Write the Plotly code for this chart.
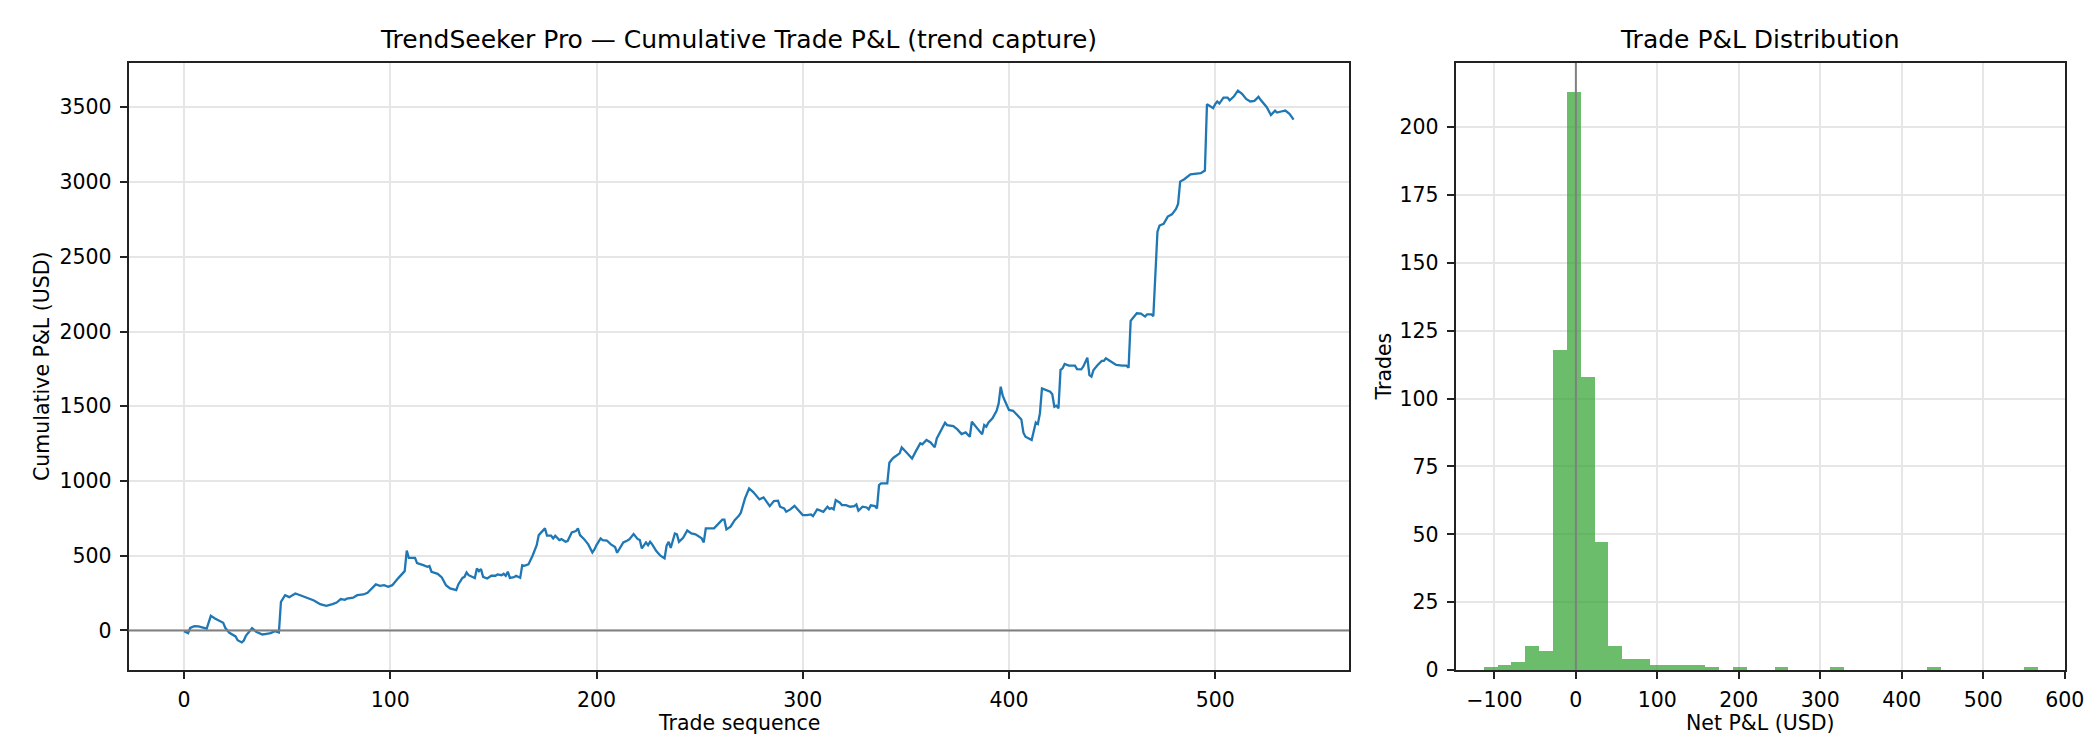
import numpy as np
import plotly.graph_objects as go

# cumulative P&L (trade index, USD)
trade_idx = [
    0, 2, 3, 5, 7, 9, 11, 13, 15, 19, 20, 22, 25, 26, 28, 29, 30, 31, 33, 35,
    36, 38, 40, 42, 44, 46, 47, 49, 51, 54, 57, 61, 63, 66, 69, 72, 74, 76, 78, 79,
    82, 84, 87, 89, 91, 93, 95, 97, 99, 101, 104, 105, 107, 108, 109, 112, 113, 116, 118, 119,
    120, 123, 125, 127, 129, 132, 133, 135, 136, 137, 138, 141, 142, 143, 144, 145, 147, 149, 151, 152,
    154, 155, 156, 157, 158, 160, 161, 163, 164, 165, 167, 169, 171, 172, 174, 175, 176, 178, 179, 180,
    182, 183, 185, 186, 188, 189, 190, 191, 192, 194, 196, 198, 199, 200, 202, 203, 205, 207, 209, 210,
    211, 213, 215, 216, 218, 220, 221, 222, 224, 225, 226, 227, 229, 231, 233, 234, 235, 236, 238, 239,
    240, 242, 244, 246, 248, 250, 251, 252, 253, 257, 258, 261, 262, 263, 265, 267, 269, 270, 272, 274,
    276, 278, 279, 281, 282, 284, 286, 288, 289, 291, 292, 294, 296, 298, 300, 302, 304, 305, 307, 308,
    310, 312, 313, 314, 315, 316, 318, 319, 321, 323, 325, 326, 327, 329, 331, 332, 333, 335, 336, 337,
    338, 341, 342, 343, 344, 347, 348, 350, 353, 355, 357, 358, 360, 362, 364, 365, 369, 370, 373, 375,
    377, 379, 381, 382, 384, 387, 388, 389, 390, 392, 394, 395, 396, 397, 398, 400, 402, 404, 406, 407,
    408, 411, 413, 414, 415, 416, 417, 420, 421, 422, 423, 424, 425, 426, 427, 429, 432, 433, 435, 436,
    438, 439, 440, 441, 443, 445, 446, 447, 449, 452, 455, 457, 458, 459, 460, 462, 464, 466, 467, 469,
    470, 472, 473, 475, 477, 479, 481, 482, 483, 485, 488, 490, 492, 493, 495, 496, 497, 499, 500, 501,
    502, 504, 506, 507, 509, 511, 513, 515, 517, 519, 521, 522, 525, 527, 529, 530, 532, 534, 536, 538,
]
cum_pnl = [
    -5, -18, 17, 29, 27, 18, 13, 98, 80, 51, 18, -16, -40, -65, -80, -67, -36, -18, 16, -9,
    -16, -27, -22, -18, -5, -13, 192, 236, 223, 248, 232, 210, 201, 176, 165, 176, 187, 210, 205, 214,
    219, 236, 241, 252, 281, 308, 299, 303, 292, 303, 352, 366, 397, 535, 486, 486, 451, 437, 426, 431,
    393, 379, 355, 303, 281, 270, 308, 352, 359, 388, 370, 350, 415, 397, 411, 359, 348, 366, 366, 375,
    370, 379, 366, 393, 352, 357, 366, 352, 437, 433, 442, 500, 571, 638, 665, 683, 634, 634, 616, 634,
    605, 611, 593, 598, 656, 660, 665, 683, 638, 611, 576, 522, 542, 571, 616, 605, 602, 576, 558, 520,
    542, 589, 602, 611, 645, 611, 605, 549, 589, 571, 593, 576, 531, 500, 482, 567, 593, 553, 649, 643,
    593, 620, 669, 649, 643, 623, 616, 589, 683, 683, 698, 741, 741, 676, 694, 738, 767, 788, 884, 950,
    926, 895, 877, 890, 872, 832, 866, 868, 828, 817, 794, 810, 834, 805, 772, 772, 776, 765, 810, 805,
    794, 828, 814, 819, 810, 872, 855, 839, 839, 828, 832, 843, 801, 828, 823, 810, 837, 832, 817, 973,
    984, 984, 1122, 1140, 1156, 1185, 1225, 1196, 1151, 1203, 1252, 1245, 1274, 1258, 1225, 1285, 1390, 1374, 1368, 1345,
    1314, 1325, 1296, 1397, 1363, 1312, 1374, 1363, 1390, 1419, 1470, 1519, 1631, 1569, 1537, 1475, 1470, 1441, 1412, 1323,
    1296, 1274, 1392, 1381, 1452, 1620, 1613, 1597, 1580, 1497, 1504, 1486, 1743, 1754, 1783, 1772, 1772, 1749, 1747, 1765,
    1825, 1709, 1698, 1743, 1776, 1803, 1803, 1821, 1803, 1776, 1772, 1772, 1758, 2071, 2089, 2122, 2120, 2100, 2115, 2115,
    2102, 2668, 2709, 2720, 2769, 2784, 2820, 2854, 3003, 3019, 3052, 3054, 3059, 3059, 3077, 3521, 3512, 3494, 3521, 3539,
    3525, 3565, 3565, 3547, 3572, 3612, 3590, 3556, 3539, 3543, 3570, 3550, 3501, 3449, 3478, 3465, 3472, 3478, 3456, 3418,
]

# histogram of per-trade net P&L: 40 bins starting at hist_start, each hist_width wide
hist_start = -113.7
hist_width = 17.0
hist_counts = [
    1, 2, 3, 9, 7, 118, 213, 108, 47, 9,
    4, 4, 2, 2, 2, 2, 1, 0, 1, 0,
    0, 1, 0, 0, 0, 1, 0, 0, 0, 0,
    0, 0, 1, 0, 0, 0, 0, 0, 0, 1,
]

FONT = "DejaVu Sans"
TICK = 20.5
GRID = "#e6e6e6"
SPINE = "#222222"

edges = hist_start + hist_width * np.arange(len(hist_counts) + 1)
centers = (edges[:-1] + edges[1:]) / 2

fig = go.Figure()
fig.add_trace(go.Scatter(x=trade_idx, y=cum_pnl, mode="lines",
                         line=dict(color="#1f77b4", width=2.3),
                         xaxis="x", yaxis="y", showlegend=False))
fig.add_trace(go.Bar(x=centers, y=hist_counts, width=hist_width,
                     marker=dict(color="rgba(44,160,44,0.7)", line=dict(width=0)),
                     xaxis="x2", yaxis="y2", showlegend=False))

# matplotlib-style 5% padding
xr = max(trade_idx) - min(trade_idx)
yr = max(cum_pnl) - min(cum_pnl)
x2lo, x2hi = edges[0], edges[-1]
x2r = x2hi - x2lo

axis_common = dict(showline=True, mirror=True, linecolor=SPINE, linewidth=1.7,
                   ticks="outside", ticklen=7, tickwidth=1.7, tickcolor=SPINE,
                   showgrid=True, gridcolor=GRID, gridwidth=1.6, zeroline=False,
                   tickfont=dict(family=FONT, size=TICK, color="black"),
                   automargin=False, ticklabelstandoff=4)

fig.update_layout(
    width=2100, height=750,
    margin=dict(l=0, r=0, t=0, b=0),
    paper_bgcolor="white", plot_bgcolor="white",
    bargap=0,
    font=dict(family=FONT, color="black"),
    xaxis=dict(domain=[0.0574, 0.6386],
               range=[min(trade_idx) - 0.05 * xr, max(trade_idx) + 0.05 * xr],
               tickvals=[0, 100, 200, 300, 400, 500], **axis_common),
    yaxis=dict(domain=[0.1173, 0.9267],
               range=[min(cum_pnl) - 0.05 * yr, max(cum_pnl) + 0.05 * yr],
               tickvals=[0, 500, 1000, 1500, 2000, 2500, 3000, 3500], **axis_common),
    xaxis2=dict(domain=[0.6893, 0.9795], anchor="y2",
                range=[x2lo - 0.05 * x2r, x2hi + 0.05 * x2r],
                tickvals=[-100, 0, 100, 200, 300, 400, 500, 600], **axis_common),
    yaxis2=dict(domain=[0.1173, 0.9267], anchor="x2",
                range=[0, max(hist_counts) * 1.05],
                tickvals=[0, 25, 50, 75, 100, 125, 150, 175, 200], **axis_common),
)

# zero reference lines
fig.add_shape(type="line", xref="x domain", yref="y", x0=0, x1=1, y0=0, y1=0,
              line=dict(color="gray", width=2))
fig.add_shape(type="line", xref="x2", yref="y2 domain", x0=0, x1=0, y0=0, y1=1,
              line=dict(color="gray", width=2))

titles = [
    ((0.0574 + 0.6386) / 2, "TrendSeeker Pro — Cumulative Trade P&L (trend capture)"),
    ((0.6893 + 0.9795) / 2, "Trade P&L Distribution"),
]
for xc, txt in titles:
    fig.add_annotation(x=xc, y=0.9267, xref="paper", yref="paper", text=txt,
                       showarrow=False, xanchor="center", yanchor="bottom", yshift=7,
                       font=dict(family=FONT, size=25, color="black"))

labels = [
    ((0.0574 + 0.6386) / 2, 0.0467, "Trade sequence", 0),
    ((0.6893 + 0.9795) / 2, 0.0467, "Net P&L (USD)", 0),
]
for xc, yc, txt, ang in labels:
    fig.add_annotation(x=xc, y=yc, xref="paper", yref="paper", text=txt,
                       showarrow=False, xanchor="center", yanchor="middle",
                       font=dict(family=FONT, size=TICK, color="black"))

fig.add_annotation(x=33.5 / 2100, y=(0.1173 + 0.9267) / 2, xref="paper", yref="paper",
                   text="Cumulative P&L (USD)", textangle=-90, showarrow=False,
                   xanchor="center", yanchor="middle",
                   font=dict(family=FONT, size=TICK, color="black"))
fig.add_annotation(x=1375 / 2100, y=(0.1173 + 0.9267) / 2, xref="paper", yref="paper",
                   text="Trades", textangle=-90, showarrow=False,
                   xanchor="center", yanchor="middle",
                   font=dict(family=FONT, size=TICK, color="black"))

fig.write_html("out.html")
